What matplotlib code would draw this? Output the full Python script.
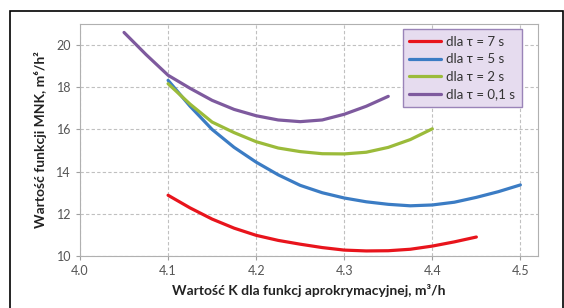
import numpy as np
import matplotlib.pyplot as plt
from matplotlib.patches import Rectangle

plt.rcParams['font.family'] = ['Lato', 'DejaVu Sans']

# values
k_7 = [4.1, 4.125, 4.15, 4.175, 4.2, 4.225, 4.25, 4.275, 4.3, 4.325, 4.35, 4.375, 4.4, 4.425, 4.45]
f_7 = [12.88, 12.28, 11.75, 11.32, 10.98, 10.74, 10.56, 10.40, 10.28, 10.24, 10.25, 10.32, 10.47, 10.67, 10.90]

k_5 = [4.1, 4.125, 4.15, 4.175, 4.2, 4.225, 4.25, 4.275, 4.3, 4.325, 4.35, 4.375, 4.4, 4.425, 4.45, 4.475, 4.5]
f_5 = [18.33, 17.10, 16.00, 15.15, 14.45, 13.85, 13.35, 13.00, 12.75, 12.57, 12.45, 12.38, 12.42, 12.55, 12.78, 13.05, 13.37]

k_2 = [4.1, 4.125, 4.15, 4.175, 4.2, 4.225, 4.25, 4.275, 4.3, 4.325, 4.35, 4.375, 4.4]
f_2 = [18.17, 17.20, 16.35, 15.85, 15.42, 15.12, 14.95, 14.85, 14.84, 14.92, 15.15, 15.52, 16.03]

k_01 = [4.05, 4.075, 4.1, 4.125, 4.15, 4.175, 4.2, 4.225, 4.25, 4.275, 4.3, 4.325, 4.35]
f_01 = [20.60, 19.55, 18.57, 17.95, 17.38, 16.95, 16.65, 16.45, 16.37, 16.45, 16.72, 17.10, 17.57]

labels = ['dla τ = 7 s', 'dla τ = 5 s', 'dla τ = 2 s', 'dla τ = 0,1 s']
colors = ['#e8141c', '#3b7cc4', '#9bbb3a', '#7e5a9e']

xticks = [4.0, 4.1, 4.2, 4.3, 4.4, 4.5]
yticks = [10, 12, 14, 16, 18, 20]

fig = plt.figure(figsize=(5.64, 3.08), dpi=100)
# outer frame
fig.patches.append(Rectangle((10/564, -0.05), 553/564, 1.05 - 11/308,
                             transform=fig.transFigure, fill=False,
                             edgecolor='black', linewidth=1.2))
ax = fig.add_axes([80/564, 1 - 256/308, 458/564, 232/308])

for k, f, lab, c in zip([k_7, k_5, k_2, k_01], [f_7, f_5, f_2, f_01], labels, colors):
    ax.plot(k, f, color=c, lw=2.3, label=lab, solid_capstyle='round')

ax.set_xlim(4.0, 4.52)
ax.set_ylim(10, 21)
ax.set_xticks(xticks)
ax.set_xticklabels([f'{v:.1f}' for v in xticks])
ax.set_yticks(yticks)
ax.grid(True, color='#c0c0c0', linestyle=(0, (3, 2)), linewidth=0.8)
ax.set_axisbelow(True)
for s in ax.spines.values():
    s.set_color('#b0b0b0')
ax.tick_params(colors='#a0a0a0', labelcolor='#555555', labelsize=9, length=3)

ax.set_xlabel('Wartość K dla funkcj aprokrymacyjnej, m³/h', fontsize=10,
              fontweight='bold', color='#222222', labelpad=5)
ax.set_ylabel('Wartość funkcji MNK, m⁶/h²', fontsize=10,
              fontweight='bold', color='#222222', labelpad=7)

leg = ax.legend(loc='upper left', bbox_to_anchor=(0.705, 0.978), borderaxespad=0,
                fontsize=9.5, handlelength=2.4, handletextpad=0.4,
                labelspacing=0.42, borderpad=0.5, fancybox=False,
                framealpha=1, facecolor='#e6dcef', edgecolor='#9a84b8')
leg.get_frame().set_linewidth(1.0)
for t in leg.get_texts():
    t.set_color('#333333')

fig.savefig('out.png', dpi=100)
